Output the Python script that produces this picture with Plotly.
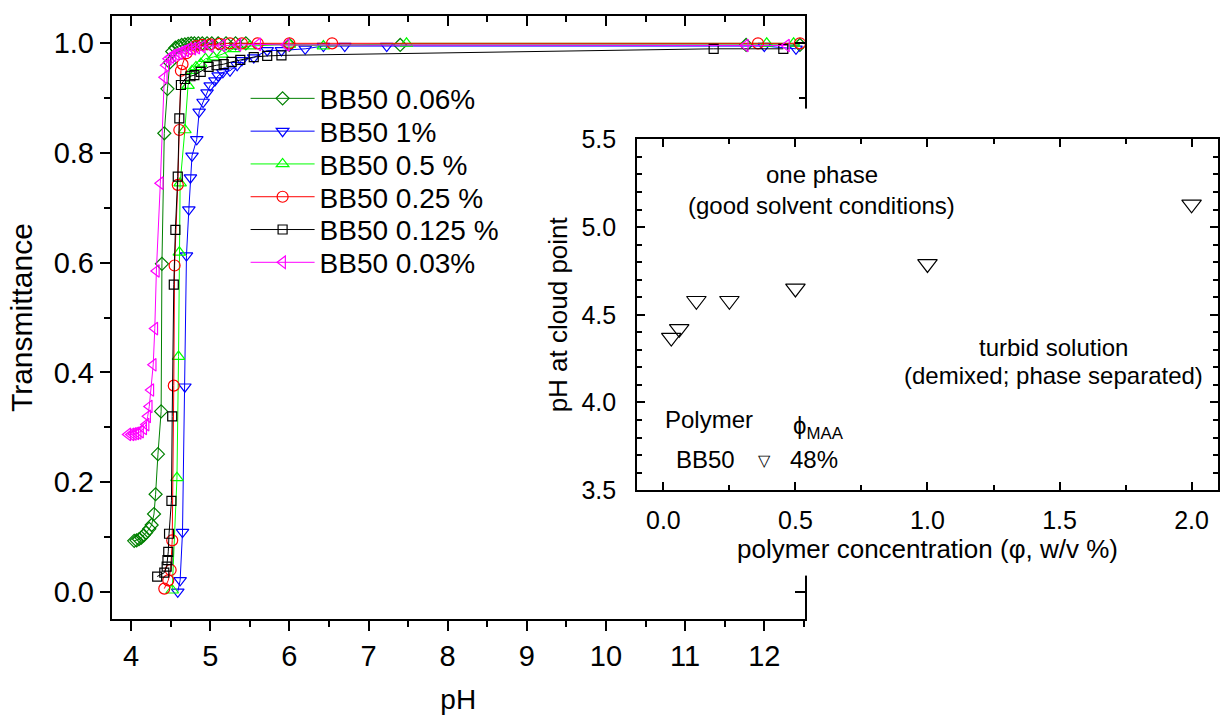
import plotly.graph_objects as go

# ---------------- data ----------------
series_names = ["BB50 0.06%", "BB50 1%", "BB50 0.5 %", "BB50 0.25 %", "BB50 0.125 %", "BB50 0.03%"]

ph_006 = [4.04, 4.07, 4.10, 4.13, 4.16, 4.19, 4.23, 4.26, 4.29, 4.31, 4.34, 4.38, 4.39, 4.42, 4.46, 4.49,
          4.52, 4.56, 4.60, 4.64, 4.68, 4.72, 4.76, 4.80, 4.85, 4.90, 4.96, 5.02, 5.10, 5.20, 5.32, 5.45,
          6.00, 7.40, 11.77, 12.45]
t_006 = [0.093, 0.094, 0.096, 0.099, 0.103, 0.108, 0.115, 0.122, 0.142, 0.178, 0.251, 0.329, 0.598, 0.836,
         0.917, 0.965, 0.985, 0.992, 0.995, 0.997, 0.998, 0.999, 1.0, 1.0, 1.0, 1.0, 1.0, 1.0, 1.0, 1.0,
         1.0, 1.0, 0.997, 0.997, 0.997, 0.997]

ph_1 = [4.59, 4.62, 4.65, 4.68, 4.70, 4.73, 4.75, 4.77, 4.83, 4.86, 4.91, 4.96, 5.00, 5.06, 5.10, 5.16,
        5.25, 5.34, 5.40, 5.55, 5.72, 5.90, 6.20, 6.43, 6.70, 7.23, 12.00, 12.40]
t_1 = [0.0, 0.021, 0.109, 0.374, 0.613, 0.697, 0.755, 0.795, 0.825, 0.875, 0.893, 0.91, 0.923, 0.932,
       0.941, 0.947, 0.95, 0.96, 0.969, 0.974, 0.987, 0.987, 0.99, 0.995, 0.995, 0.995, 0.995, 0.99]

ph_05 = [4.52, 4.58, 4.60, 4.61, 4.62, 4.68, 4.72, 4.77, 4.82, 4.88, 4.94, 5.04, 5.15, 5.30, 5.50, 6.00,
         6.43, 7.48, 12.03, 12.37]
t_05 = [0.003, 0.208, 0.429, 0.619, 0.745, 0.842, 0.923, 0.95, 0.957, 0.963, 0.972, 0.975, 0.98, 0.99,
        0.995, 0.998, 0.995, 1.0, 1.0, 1.0]

ph_025 = [4.42, 4.47, 4.50, 4.52, 4.54, 4.55, 4.59, 4.61, 4.63, 4.65, 4.70, 4.76, 4.82, 4.90, 5.00, 5.12,
          5.25, 5.40, 5.60, 6.00, 6.54, 11.92, 12.45]
t_025 = [0.006, 0.021, 0.04, 0.094, 0.376, 0.595, 0.742, 0.842, 0.95, 0.962, 0.982, 0.99, 0.995, 0.997,
         0.998, 0.999, 1.0, 1.0, 1.0, 1.0, 1.0, 1.0, 1.0]

ph_0125 = [4.33, 4.42, 4.45, 4.46, 4.47, 4.48, 4.51, 4.52, 4.54, 4.56, 4.59, 4.61, 4.63, 4.68, 4.75, 4.80,
           4.88, 4.98, 5.08, 5.17, 5.27, 5.38, 5.55, 5.72, 5.90, 11.36, 12.24]
t_0125 = [0.028, 0.035, 0.046, 0.058, 0.073, 0.106, 0.166, 0.32, 0.56, 0.66, 0.757, 0.863, 0.924, 0.935,
          0.94, 0.942, 0.948, 0.957, 0.96, 0.962, 0.966, 0.97, 0.975, 0.977, 0.978, 0.99, 0.99]

ph_003 = [3.96, 4.00, 4.03, 4.06, 4.09, 4.12, 4.16, 4.19, 4.21, 4.23, 4.25, 4.28, 4.30, 4.32, 4.37, 4.42,
          4.44, 4.47, 4.50, 4.53, 4.57, 4.61, 4.65, 4.69, 4.73, 4.78, 4.83, 4.90, 5.00, 5.15, 5.35, 5.60,
          5.96, 11.76, 12.28]
t_003 = [0.287, 0.287, 0.288, 0.289, 0.29, 0.292, 0.298, 0.305, 0.32, 0.338, 0.368, 0.414, 0.48, 0.585,
         0.745, 0.938, 0.96, 0.972, 0.975, 0.978, 0.98, 0.982, 0.985, 0.987, 0.99, 0.99, 0.992, 0.994,
         0.995, 0.996, 0.997, 0.998, 0.997, 0.996, 0.996]

# inset: cloud-point pH vs polymer concentration
phi_conc = [0.03, 0.06, 0.125, 0.25, 0.5, 1.0, 2.0]
ph_cloud = [4.37, 4.42, 4.58, 4.58, 4.65, 4.79, 5.13]

main_xticks = [4, 5, 6, 7, 8, 9, 10, 11, 12]
main_yticks = [0.0, 0.2, 0.4, 0.6, 0.8, 1.0]
inset_xticks = [0.0, 0.5, 1.0, 1.5, 2.0]
inset_yticks = [3.5, 4.0, 4.5, 5.0, 5.5]

# ---------------- layout helpers ----------------
W, H = 1220, 715
FONT = "Liberation Sans, Arial, sans-serif"


def X(px):
    return px / W


def Y(py):
    # vertical pixel position (from top) -> paper fraction, with a small empirical correction
    return 1 - ((py - 11.8) / 0.967) / H


styles = [
    ("#008000", "diamond-open", 10),
    ("#0000FF", "triangle-down-open", 11),
    ("#00FF00", "triangle-up-open", 11),
    ("#FF0000", "circle-open", 11),
    ("#000000", "square-open", 9),
    ("#FF00FF", "triangle-left-open", 11),
]
xs = [ph_006, ph_1, ph_05, ph_025, ph_0125, ph_003]
ys = [t_006, t_1, t_05, t_025, t_0125, t_003]
legend_ids = ["legend", "legend2", "legend3", "legend4", "legend5", "legend6"]
legend_rows_px = [97, 130, 163, 196, 229, 262]

fig = go.Figure()
for name, x, y, (col, sym, sz), lg in zip(series_names, xs, ys, styles, legend_ids):
    fig.add_trace(go.Scatter(
        x=x, y=y, name=name, mode="lines+markers",
        line=dict(color=col, width=1),
        marker=dict(symbol=sym, size=sz, color=col, line=dict(color=col, width=1.2)),
        xaxis="x", yaxis="y", legend=lg,
    ))

# empty helper traces to create the mirrored-axis overlays and the white inset backdrop
fig.add_trace(go.Scatter(x=[], y=[], xaxis="x2", yaxis="y", showlegend=False, hoverinfo="skip"))
fig.add_trace(go.Scatter(x=[], y=[], xaxis="x", yaxis="y2", showlegend=False, hoverinfo="skip"))
fig.add_trace(go.Scatter(x=[], y=[], xaxis="x3", yaxis="y3", showlegend=False, hoverinfo="skip"))

# inset
fig.add_trace(go.Scatter(
    x=phi_conc, y=ph_cloud, mode="markers", showlegend=False,
    marker=dict(symbol="triangle-down-open", size=17, color="black", line=dict(color="black", width=1.2)),
    xaxis="x4", yaxis="y4",
))

main_xdom = [X(112), X(806)]
main_ydom = [Y(621), Y(13.7)]
xr = [3.757, 12.51]
yr = [-0.05, 1.05]

axis_common = dict(showgrid=False, zeroline=False, showline=True, linecolor="black",
                   tickcolor="black")

legends = {}
for lg, ypx in zip(legend_ids, legend_rows_px):
    legends[lg] = dict(x=X(246), y=Y(ypx), xanchor="left", yanchor="middle",
                       bgcolor="rgba(0,0,0,0)", font=dict(family=FONT, size=28),
                       itemwidth=64, borderwidth=0)

fig.update_layout(
    width=W, height=H,
    margin=dict(l=0, r=0, t=0, b=0, pad=0),
    paper_bgcolor="white", plot_bgcolor="white",
    font=dict(family=FONT, size=26, color="black"),
    showlegend=True,
    **legends,
    xaxis=dict(**axis_common, domain=main_xdom, range=xr, anchor="y",
               tickvals=main_xticks, ticks="outside", ticklen=10, tickwidth=2, linewidth=2,
               minor=dict(dtick=0.5, tick0=4, ticks="outside", ticklen=6, tickwidth=2, tickcolor="black"),
               tickfont=dict(family=FONT, size=29),
               title=dict(text="pH", standoff=20, font=dict(family=FONT, size=28))),
    xaxis2=dict(**axis_common, overlaying="x", side="top", anchor="y", range=xr,
                tickvals=main_xticks, ticks="inside", ticklen=10, tickwidth=2, linewidth=2,
                minor=dict(dtick=0.5, tick0=4, ticks="inside", ticklen=6, tickwidth=2, tickcolor="black"),
                showticklabels=False),
    yaxis=dict(**axis_common, domain=main_ydom, range=yr, anchor="x",
               tickvals=main_yticks, tickformat=".1f", ticks="outside", ticklen=10, tickwidth=2, linewidth=2,
               minor=dict(dtick=0.1, tick0=0, ticks="outside", ticklen=6, tickwidth=2, tickcolor="black"),
               tickfont=dict(family=FONT, size=29),
               title=dict(text="Transmittance", standoff=12, font=dict(family=FONT, size=30))),
    yaxis2=dict(**axis_common, overlaying="y", side="right", anchor="x", range=yr,
                tickvals=main_yticks, ticks="inside", ticklen=10, tickwidth=2, linewidth=2,
                minor=dict(dtick=0.1, tick0=0, ticks="inside", ticklen=6, tickwidth=2, tickcolor="black"),
                showticklabels=False),
    # white backdrop of the inset (covers the main frame behind it)
    xaxis3=dict(domain=[X(555), 1.0], anchor="y3", visible=False, range=[0, 1]),
    yaxis3=dict(domain=[Y(577), Y(107)], anchor="x3", visible=False, range=[0, 1]),
    # inset axes
    xaxis4=dict(**axis_common, domain=[X(638), 1.0], range=[-0.1, 2.1], anchor="y4",
                tickvals=inset_xticks, tickformat=".1f", ticks="inside", ticklen=8, tickwidth=1.5,
                linewidth=1.5, mirror="ticks", ticklabelstandoff=7,
                minor=dict(dtick=0.25, tick0=0, ticks="inside", ticklen=5, tickwidth=1.5, tickcolor="black"),
                tickfont=dict(family=FONT, size=25),
                title=dict(text="polymer concentration (φ, w/v %)", standoff=4,
                           font=dict(family=FONT, size=26))),
    yaxis4=dict(**axis_common, domain=[Y(491), Y(138)], range=[3.5, 5.5], anchor="x4",
                tickvals=inset_yticks, tickformat=".1f", ticks="inside", ticklen=8, tickwidth=1.5,
                linewidth=1.5, mirror="ticks", ticklabelstandoff=14,
                minor=dict(dtick=0.1, tick0=3.5, ticks="inside", ticklen=5, tickwidth=1.5, tickcolor="black"),
                tickfont=dict(family=FONT, size=25),
                title=dict(text="pH at cloud point", standoff=6, font=dict(family=FONT, size=26))),
)


def note(text, px, py, size=24, xanchor="center"):
    fig.add_annotation(text=text, x=X(px), y=Y(py), xref="paper", yref="paper",
                       xanchor=xanchor, yanchor="middle", showarrow=False,
                       font=dict(family=FONT, size=size, color="black"))


note("one phase", 823, 173)
note("(good solvent conditions)", 823, 205)
note("turbid solution", 1055, 347)
note("(demixed; phase separated)", 1055, 376)
note("Polymer", 710, 420)
note("ϕ<sub>MAA</sub>", 792, 428, xanchor="left")
note("BB50", 707, 460)
note("▽", 766, 461, size=16)
note("48%", 815, 460)

fig.write_html("out.html", config={"displayModeBar": False},
               post_script="document.body.style.margin='0px';")
